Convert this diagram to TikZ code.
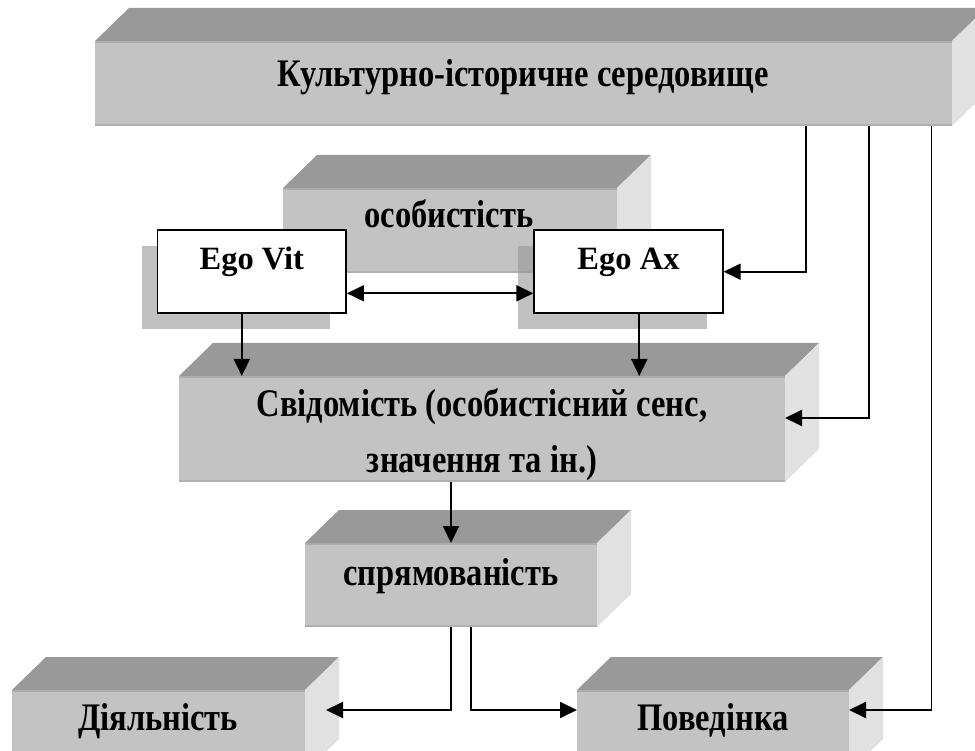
\documentclass[tikz,border=0pt]{standalone}
\usepackage{fontspec}
\setmainfont{Liberation Serif}
\usepackage{graphicx}
\usetikzlibrary{arrows.meta,shadows}
\definecolor{topc}{RGB}{153,153,153}
\definecolor{frontc}{RGB}{195,195,195}
\definecolor{sidec}{RGB}{225,225,225}
\definecolor{topedgec}{RGB}{172,172,172}
\definecolor{botedgec}{RGB}{176,176,176}
\definecolor{shadc}{RGB}{150,150,150}
\tikzset{
  frontface/.style={fill=frontc, draw=none, inner sep=0pt, outer sep=0pt},
  topedge/.style={topedgec, line width=1.6pt},
  botedge/.style={botedgec, line width=1.6pt},
  lbl/.style={font=\fontsize{32.5}{39}\selectfont\bfseries, inner sep=0pt, anchor=base},
  egobox/.style={draw, line width=1.8pt, fill=white, inner sep=0pt,
    general shadow={fill=shadc, fill opacity=0.6, shadow xshift=-16pt, shadow yshift=-16pt}},
  arr/.style={-{Triangle[length=17pt,width=16pt]}, line width=1.9pt},
  darr/.style={{Triangle[length=17pt,width=16pt]}-{Triangle[length=17pt,width=16pt]}, line width=1.9pt},
}
\newcommand\mycube[5]{%
  \node[frontface, minimum width={(#4-#2)*1pt}, minimum height={(#5-#3)*1pt}] (#1) at ({(#2+#4)/2},{(#3+#5)/2}) {};
  \fill[topc] (#1.north west) -- ([shift={(34,-33)}]#1.north west) -- ([shift={(34,-33)}]#1.north east) -- (#1.north east) -- cycle;
  \fill[sidec] (#1.north east) -- ([shift={(34,-33)}]#1.north east) -- ([shift={(34,-33)}]#1.south east) -- (#1.south east) -- cycle;
  \draw[topedge] ([yshift=-0.8pt]#1.north west) -- ([yshift=-0.8pt]#1.north east);
  \draw[botedge] ([yshift=0.8pt]#1.south west) -- ([yshift=0.8pt]#1.south east);
}
\newcommand\stretchtxt[1]{\scalebox{1}[1.2]{#1}}
\begin{document}
\begin{tikzpicture}[x=1pt,y=-1pt]
\useasboundingbox (0,0) rectangle (975,751);
\clip (0,0) rectangle (975,751);
% cubes
\mycube{top}{95}{41}{952}{126}
\mycube{osob}{283}{188}{617}{273}
\mycube{svid}{179}{376}{785}{482}
\mycube{spry}{305}{543}{597}{627}
\mycube{diyal}{12}{690}{305}{772}
\mycube{poved}{577}{690}{849}{772}
% ego boxes
\node[egobox, minimum width=188.5pt, minimum height=83.3pt] (vit) at (251.8,271.7) {};
\node[egobox, minimum width=188.5pt, minimum height=83.3pt] (ax) at (628.5,271.7) {};
% texts
\node[lbl] (ttop) at (523,86.5) {\stretchtxt{Культурно-історичне середовище}};
\node[lbl] (tosob) at (449,228) {\stretchtxt{особистість}};
\node[lbl] (tvit) at (251.8,270) {Ego Vit};
\node[lbl] (tax) at (628.5,269.5) {Ego Ax};
\node[lbl] (tsvid1) at (482,417) {\stretchtxt{Свідомість (особистісний сенс,}};
\node[lbl] (tsvid2) at (482,472) {\stretchtxt{значення та ін.)}};
\node[lbl] (tspry) at (451,585) {\stretchtxt{спрямованість}};
\node[lbl] (tdiyal) at (158,730) {\stretchtxt{Діяльність}};
\node[lbl] (tpoved) at (713,730) {\stretchtxt{Поведінка}};
% coordinates
\coordinate (c1) at (806,0);
\coordinate (c2) at (869,0);
\coordinate (c3) at (931.5,0);
\coordinate (rowy) at (0,710);
% connectors
\draw[arr] (c1 |- top.south) |- (ax.east);
\draw[arr] (c2 |- top.south) |- ([yshift=11pt]svid.east);
\draw[arr] (c3 |- top.south) |- (poved.east |- rowy);
\draw[arr] ([xshift=-10pt]vit.south) -- ([xshift=-10pt]vit.south |- svid.north);
\draw[arr] ([xshift=10.8pt]ax.south) -- ([xshift=10.8pt]ax.south |- svid.north);
\draw[darr] ([yshift=-21.6pt]vit.east) -- ([yshift=-21.6pt]ax.west);
\draw[arr] (spry.north |- svid.south) -- (spry.north);
\draw[arr] (spry.south) |- ([xshift=21pt]diyal.east |- rowy);
\draw[arr] ([xshift=20pt]spry.south) |- (poved.west |- rowy);
\end{tikzpicture}
\end{document}
